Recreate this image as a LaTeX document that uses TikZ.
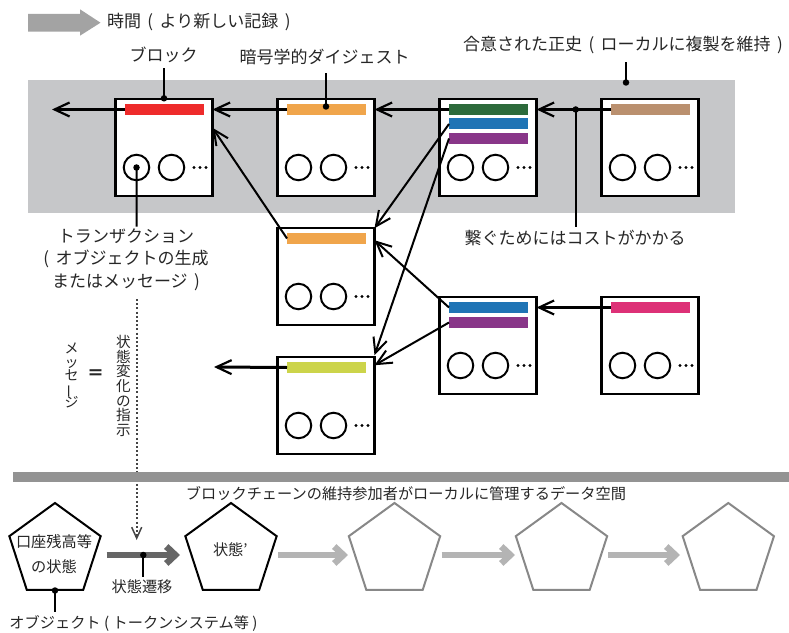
\documentclass[tikz,border=0pt]{standalone}
\usepackage{fontspec}
\setmainfont{Noto Sans CJK JP}
\usetikzlibrary{arrows.meta,calc,shapes.geometric}
\definecolor{bggray}{HTML}{C6C7C9}
\definecolor{bannergray}{HTML}{A3A3A3}
\definecolor{sepgray}{HTML}{939393}
\definecolor{txt}{HTML}{262626}
\definecolor{cred}{HTML}{EE2B2B}
\definecolor{corange}{HTML}{F0A54B}
\definecolor{cgreen}{HTML}{2C6A3B}
\definecolor{cblue}{HTML}{1F74B5}
\definecolor{cpurple}{HTML}{893689}
\definecolor{ctan}{HTML}{BA906F}
\definecolor{cpink}{HTML}{DD3177}
\definecolor{cyellow}{HTML}{CCD44A}
\definecolor{darkarrow}{HTML}{666666}
\definecolor{lightarrow}{HTML}{B4B4B4}
\definecolor{pentgray}{HTML}{888888}
\definecolor{dotgray}{HTML}{444444}
\newcommand{\psp}{\hspace{0.38em}}
\tikzset{
  blockbox/.style={draw=black, line width=2.4bp, fill=white, minimum width=97bp, minimum height=96.5bp, inner sep=0pt, outer sep=0pt},
  barbox/.style={minimum width=79bp, minimum height=11bp, inner sep=0pt, outer sep=0pt},
  ring/.style={circle, draw=black, line width=2bp, minimum size=25.5bp, inner sep=0pt, outer sep=0pt},
  tdot/.style={circle, fill=black, minimum size=3.2bp, inner sep=0pt, outer sep=0pt},
  jdot/.style={circle, fill=black, minimum size=6.5bp, inner sep=0pt, outer sep=0pt},
  lbl/.style={text=txt, font=\fontsize{17bp}{22.5bp}\selectfont, inner sep=0pt, outer sep=0pt},
  lbs/.style={text=txt, font=\fontsize{15.2bp}{25.5bp}\selectfont, inner sep=0pt, outer sep=0pt},
  link/.style={line width=3bp, -{Straight Barb[length=15bp,width=14bp,line width=2.2bp]}},
  diag/.style={line width=2bp, -{Straight Barb[length=15bp,width=14bp,line width=2bp]}},
  pointer/.style={line width=2bp},
  pent/.style={regular polygon, regular polygon sides=5, minimum size=96bp, inner sep=0pt, outer sep=0pt, line width=2bp, fill=white},
  fatdark/.style={line width=6.5bp, darkarrow, -{Straight Barb[length=9bp,width=17bp]}},
  fatlight/.style={line width=6.5bp, lightarrow, -{Straight Barb[length=9bp,width=17bp]}},
}
\newcommand{\mkblock}[3]{%
  \node[blockbox] (#1) at (#2+50,#3+49.5) {};
  \node[ring] (#1c1) at (#2+22.5,#3+69.5) {};
  \node[ring] (#1c2) at (#2+57.5,#3+69.5) {};
  \node[tdot] (#1d1) at (#2+80,#3+69.5) {};
  \node[tdot] (#1d2) at (#2+86,#3+69.5) {};
  \node[tdot] (#1d3) at (#2+92,#3+69.5) {};
}
\newcommand{\mkbar}[5]{%
  \node[barbox, fill=#5] (#1) at (#2+50.5,#3+#4) {};
}
\begin{document}
\begin{tikzpicture}[x=1bp,y=-1bp]
\useasboundingbox (0,0) rectangle (789,633);
% banner arrow
\fill[bannergray] (28,14) -- (80,14) -- (80,9.3) -- (100.5,22.7) -- (80,35.7) -- (80,31.7) -- (28,31.7) -- cycle;
\node[lbl, anchor=west] (ltime) at (107,22) {時間\psp(\psp より新しい記録\psp)};
% gray background
\fill[bggray] (28,80) rectangle (735,212.7);
% blocks
\mkblock{b1}{114}{98}
\mkblock{b2}{276}{98}
\mkblock{b3}{438}{98}
\mkblock{b4}{600}{98}
\mkblock{m}{276}{227}
\mkblock{r1}{438}{296}
\mkblock{r2}{600}{296}
\mkblock{ll}{276}{356}
\mkbar{b1bar}{114}{98}{11.5}{cred}
\mkbar{b2bar}{276}{98}{11.5}{corange}
\mkbar{b3bara}{438}{98}{11.5}{cgreen}
\mkbar{b3barb}{438}{98}{26}{cblue}
\mkbar{b3barc}{438}{98}{40.5}{cpurple}
\mkbar{b4bar}{600}{98}{11.5}{ctan}
\mkbar{mbar}{276}{227}{11.5}{corange}
\mkbar{r1bara}{438}{296}{11.5}{cblue}
\mkbar{r1barb}{438}{296}{26.5}{cpurple}
\mkbar{r2bar}{600}{296}{11.5}{cpink}
\mkbar{llbar}{276}{356}{11.5}{cyellow}
% horizontal chain arrows
\coordinate (outa) at (52,109.5);
\coordinate (outb) at (214,367);
\draw[link] (b1bar.west) -- (outa);
\draw[link] (b2bar.west) -- (b2bar.west -| b1.east);
\draw[link] (b3bara.west) -- (b3bara.west -| b2.east);
\draw[link] (b4bar.west) -- (b4bar.west -| b3.east);
\draw[link] (r2bar.west) -- (r2bar.west -| r1.east);
\draw[link] (llbar.west) -- (outb);
% diagonal arrows
\draw[diag] (b3barb.west) -- (m.north east);
\draw[diag] (b3barc.west) -- ($(ll.north east)+(0,-2)$);
\draw[diag] (r1bara.west) -- ($(m.north east)+(0,12)$);
\draw[diag] (mbar.west) -- ($(b1.north east)+(0,28.5)$);
\draw[diag] (r1barb.west) -- ($(ll.north east)+(0,8)$);
% labels with pointers
\node[lbl] (lblock) at (163.5,54.5) {ブロック};
\node[jdot] (dblock) at (164,98.3) {};
\coordinate (tblock) at (164,68);
\draw[pointer] (dblock.center) -- (tblock);
\node[lbl] (ldigest) at (324.5,57) {暗号学的ダイジェスト};
\node[jdot] (ddigest) at (326,106.5) {};
\coordinate (tdigest) at (326,73);
\draw[pointer] (ddigest.center) -- (tdigest);
\node[lbl] (lhist) at (623,45) {合意された正史\psp(\psp ローカルに複製を維持\psp)};
\node[jdot] (dhist) at (626,82.5) {};
\coordinate (thist) at (626,62);
\draw[pointer] (dhist.center) -- (thist);
\node[jdot] (dcost) at (575.7,109.5) {};
\coordinate (tcost) at (575.7,226.7);
\draw[pointer] (dcost.center) -- (tcost);
\node[lbl] (lcost) at (575,238.5) {繋ぐためにはコストがかかる};
\node[jdot] (dtx) at (b1c1.center) {};
\coordinate (ttx) at (136.7,226.7);
\draw[pointer] (dtx.center) -- (ttx);
\node[lbl, align=center, anchor=north] (ltx) at (126,228.5) {トランザクション\\(\psp オブジェクトの生成\\またはメッセージ\psp)};
% dotted arrow
\coordinate (dota) at (136.7,299);
\coordinate (dotb) at (136.7,540);
\draw[dotgray, line width=1.9bp, dash pattern=on 2bp off 2.2bp, -{Straight Barb[length=11bp,width=10bp,line width=1.5bp]}] (dota) -- (dotb);
% vertical texts
\node[text=txt, font=\fontsize{14bp}{13.6bp}\selectfont, align=center, inner sep=0pt] (vmsg) at (71.7,375.7) {メ\\ッ\\セ\\\smash{\rotatebox[origin=c]{90}{ー}}\\ジ};
\node[text=txt, font=\fontsize{17bp}{22bp}\selectfont\bfseries, inner sep=0pt] (veq) at (95.5,375) {＝};
\node[text=txt, font=\fontsize{14.6bp}{14.6bp}\selectfont, align=center, inner sep=0pt] (vinst) at (123.3,386) {状\\態\\変\\化\\の\\指\\示};
% separator
\fill[sepgray] (13,471.7) rectangle (789,481.7);
\node[lbs] (lspace) at (406,493.5) {ブロックチェーンの維持参加者がローカルに管理するデータ空間};
% pentagons
\node[pent, draw=black] (p1) at (55,551) {};
\node[pent, draw=black] (p2) at (231,551) {};
\node[pent, draw=pentgray] (p3) at (394.5,551) {};
\node[pent, draw=pentgray] (p4) at (561.5,551) {};
\node[pent, draw=pentgray] (p5) at (728.3,551) {};
\node[lbs] (p1ta) at (54,541.5) {口座残高等};
\node[lbs] (p1tb) at (54,567) {の状態};
\node[lbs, anchor=west] (p2t) at (213,550) {状態’};
% fat arrows
\draw[fatdark] ($(p1.center)+(51.7,4)$) -- ($(p2.center)+(-51,4)$);
\draw[fatlight] ($(p2.center)+(47,4)$) -- ($(p3.center)+(-46.5,4)$);
\draw[fatlight] ($(p3.center)+(47.2,4)$) -- ($(p4.center)+(-46.5,4)$);
\draw[fatlight] ($(p4.center)+(46.5,4)$) -- ($(p5.center)+(-48.3,4)$);
% state transition pointer
\node[jdot] (dtrans) at (143.3,555) {};
\coordinate (ttrans) at (143.3,576.7);
\draw[pointer] (dtrans.center) -- (ttrans);
\node[lbs] (ltrans) at (142,586.5) {状態遷移};
% object pointer
\node[jdot] (dobj) at (55,590.5) {};
\coordinate (tobj) at (55,611.7);
\draw[pointer] (dobj.center) -- (tobj);
\node[lbs] (lobj) at (133.5,623) {オブジェクト ( トークンシステム等 )};
\end{tikzpicture}
\end{document}
